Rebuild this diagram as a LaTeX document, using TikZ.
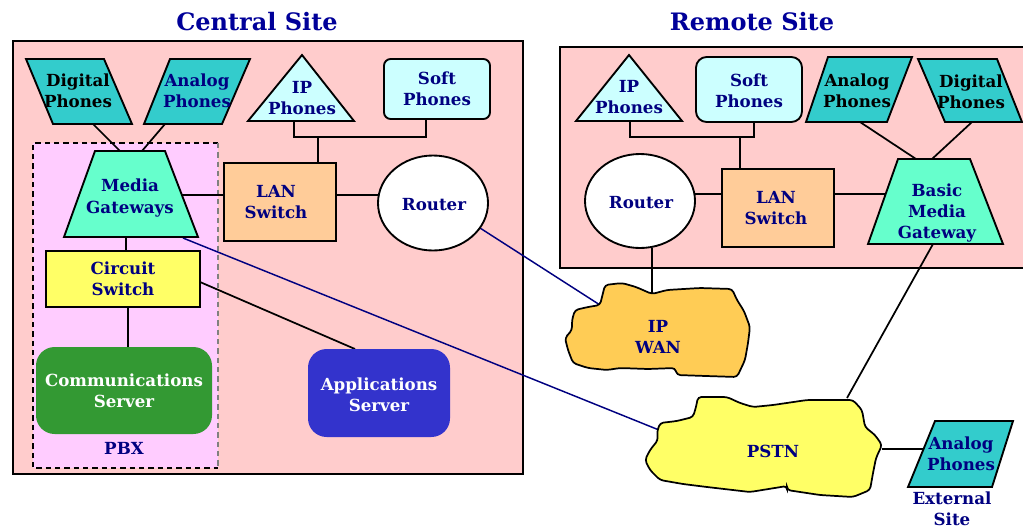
\documentclass[tikz,border=0pt]{standalone}
\usepackage{fontspec}
\setmainfont{DejaVu Serif}
\usetikzlibrary{shapes.geometric}
\definecolor{navytxt}{HTML}{000080}
\definecolor{titlecol}{HTML}{000099}
\definecolor{sitebg}{HTML}{FFCCCC}
\definecolor{pbxbg}{HTML}{FFCCFF}
\definecolor{tealph}{HTML}{33CCCC}
\definecolor{cyanph}{HTML}{CCFFFF}
\definecolor{mintgw}{HTML}{66FFCC}
\definecolor{orlan}{HTML}{FFCC99}
\definecolor{yelsw}{HTML}{FFFF66}
\definecolor{grsrv}{HTML}{339933}
\definecolor{blsrv}{HTML}{3333CC}
\definecolor{wanc}{HTML}{FFCC55}
\definecolor{navyln}{HTML}{000080}
\begin{document}
\begin{tikzpicture}[x=0.75pt,y=-0.75pt,
  shp/.style={draw=black,line width=1.4pt,line join=miter},
  sitebox/.style={draw=black,line width=1.7pt,fill=sitebg},
  conn/.style={draw=black,line width=1.3pt},
  nconn/.style={draw=navyln,line width=1.1pt},
  lbl/.style={font=\bfseries\fontsize{12.5}{15.8}\selectfont,text=navytxt,align=center,inner sep=0pt},
  blbl/.style={lbl,text=black},
  wlbl/.style={lbl,text=white},
  ttl/.style={font=\bfseries\fontsize{18}{21}\selectfont,text=titlecol,inner sep=0pt},
  cloud/.style={draw=black,line width=1.3pt,rounded corners=2.5pt}
]
\useasboundingbox (0,0) rectangle (1023,529);

% titles
\node[ttl] (ctitle) at (257,22) {Central Site};
\node[ttl] (rtitle) at (752,22) {Remote Site};

% site boxes
\path[sitebox] (13,41) rectangle (523,474);
\path[sitebox] (560,47) rectangle (1030,268);
\path[fill=pbxbg] (33,143) rectangle (218,468);
\draw[line width=1.1pt,dash pattern=on 4pt off 3pt] (218,143) -- (33,143) -- (33,468) -- (218,468);
\draw[line width=0.8pt,gray,dash pattern=on 4pt off 3pt] (218,143) -- (218,468);

% ---------- attachment coordinates ----------
\coordinate (cdp-b) at (93,124);   \coordinate (cmg-t1) at (120,151);
\coordinate (cap-b) at (165,124);  \coordinate (cmg-t2) at (142,151);
\coordinate (cip-b) at (294,121);  \coordinate (cip-j) at (294,137);
\coordinate (csp-b) at (426,119);  \coordinate (csp-j) at (426,137);
\coordinate (cbus) at (318,137);   \coordinate (clan-t) at (318,163);
\coordinate (cmg-r) at (182,195);  \coordinate (clan-l) at (224,195);
\coordinate (clan-r) at (336,195); \coordinate (crt-l) at (378,195);
\coordinate (cmg-b) at (126,237);  \coordinate (ccs-t) at (126,251);
\coordinate (ccs-b) at (128,307);  \coordinate (cco-t) at (128,347);
\coordinate (ccs-r) at (200,282);  \coordinate (capp-t) at (355,349);
\coordinate (cmg-br) at (183,238); \coordinate (pstn-l) at (659,430);
\coordinate (crt-br) at (480,228); \coordinate (wan-l) at (600,305);

\coordinate (rip-b) at (630,121);  \coordinate (rip-j) at (630,137);
\coordinate (rsp-b) at (754,122);  \coordinate (rsp-j) at (754,137);
\coordinate (rbus) at (740,137);   \coordinate (rlan-t) at (740,169);
\coordinate (rrt-r) at (695,194);  \coordinate (rlan-l) at (722,194);
\coordinate (rlan-r) at (834,194); \coordinate (rmg-l) at (886,194);
\coordinate (rap-b) at (860,122);  \coordinate (rmg-t1) at (916,159);
\coordinate (rdp-b) at (972,122);  \coordinate (rmg-t2) at (932,159);
\coordinate (rrt-b) at (652,248);  \coordinate (wan-t) at (652,295);
\coordinate (rmg-b) at (933,244);  \coordinate (pstn-t) at (847,398);
\coordinate (pstn-r) at (882,449); \coordinate (eap-l) at (924,449);

% ---------- connectors ----------
\draw[conn] (cdp-b) -- (cmg-t1);
\draw[conn] (cap-b) -- (cmg-t2);
\draw[conn] (cip-b) -- (cip-j) -- (csp-j) -- (csp-b);
\draw[conn] (cbus) -- (clan-t);
\draw[conn] (cmg-r) -- (clan-l);
\draw[conn] (clan-r) -- (crt-l);
\draw[conn] (cmg-b) -- (ccs-t);
\draw[conn] (ccs-b) -- (cco-t);
\draw[conn] (ccs-r) -- (capp-t);
\draw[nconn] (cmg-br) -- (pstn-l);
\draw[nconn] (crt-br) -- (wan-l);

\draw[conn] (rip-b) -- (rip-j) -- (rsp-j) -- (rsp-b);
\draw[conn] (rbus) -- (rlan-t);
\draw[conn] (rrt-r) -- (rlan-l);
\draw[conn] (rlan-r) -- (rmg-l);
\draw[conn] (rap-b) -- (rmg-t1);
\draw[conn] (rdp-b) -- (rmg-t2);
\draw[conn] (rrt-b) -- (wan-t);
\draw[conn] (rmg-b) -- (pstn-t);
\draw[conn] (pstn-r) -- (eap-l);

% ---------- central site shapes ----------
\path[shp,fill=tealph] (26,59) -- (104,59) -- (132,124) -- (53,124) -- cycle;
\node[blbl] (cdp) at (78,91) {Digital\\Phones};
\path[shp,fill=tealph] (170,59) -- (250,59) -- (222,124) -- (144,124) -- cycle;
\node[lbl] (cap) at (197,91) {Analog\\Phones};
\path[shp,fill=cyanph] (302,55) -- (354,121) -- (248,121) -- cycle;
\node[lbl] (cip) at (302,98) {IP\\Phones};
\path[shp,fill=cyanph,rounded corners=5pt] (384,59) rectangle (490,119);
\node[lbl] (csp) at (437,89) {Soft\\Phones};
\path[shp,fill=mintgw] (95,151) -- (165,151) -- (198,237) -- (64,237) -- cycle;
\node[lbl] (cmg) at (130,198) {Media\\Gateways};
\path[shp,fill=orlan] (224,163) rectangle (336,241);
\node[lbl] (clan) at (276,202) {LAN\\Switch};
\path[shp,fill=white] (433,203) ellipse [x radius=55,y radius=47.5];
\node[lbl] (crt) at (434,205) {Router};
\path[shp,fill=yelsw] (46,251) rectangle (200,307);
\node[lbl] (ccs) at (123,279) {Circuit\\Switch};
\path[fill=grsrv,rounded corners=14pt] (36,347) rectangle (212,434);
\node[wlbl] (cco) at (124,391) {Communications\\Server};
\node[lbl] (pbx) at (124,448) {PBX};
\path[fill=blsrv,rounded corners=14pt] (308,349) rectangle (450,437);
\node[wlbl] (capp) at (379,395) {Applications\\Server};

% ---------- remote site shapes ----------
\path[shp,fill=cyanph] (629,55) -- (682,121) -- (576,121) -- cycle;
\node[lbl] (rip) at (629,97) {IP\\Phones};
\path[shp,fill=cyanph,rounded corners=8pt] (696,57) rectangle (802,122);
\node[lbl] (rsp) at (749,91) {Soft\\Phones};
\path[shp,fill=tealph] (828,57) -- (912,57) -- (887,122) -- (806,122) -- cycle;
\node[blbl] (rap) at (857,91) {Analog\\Phones};
\path[shp,fill=tealph] (918,59) -- (997,59) -- (1022,122) -- (945,122) -- cycle;
\node[blbl] (rdp) at (971,92) {Digital\\Phones};
\path[shp,fill=white] (640,201) ellipse [x radius=55,y radius=47];
\node[lbl] (rrt) at (641,203) {Router};
\path[shp,fill=orlan] (722,169) rectangle (834,247);
\node[lbl] (rlan) at (776,208) {LAN\\Switch};
\path[shp,fill=mintgw] (898,159) -- (970,159) -- (1003,244) -- (868,244) -- cycle;
\node[lbl] (rmg) at (937,213) {Basic\\Media\\Gateway};

% ---------- clouds ----------
\path[cloud,fill=wanc] (605,285) -- (622,283) -- (636,287) -- (652,294) -- (667,290)
  -- (700,288) -- (732,289) -- (737,300) -- (744,311) -- (750,327) -- (748,343)
  -- (745,360) -- (737,377) -- (706,376) -- (677,375) -- (675,368) -- (648,369)
  -- (620,368) -- (607,370) -- (588,368) -- (573,363) -- (568,350) -- (565,338)
  -- (572,330) -- (572,320) -- (575,310) -- (588,307) -- (600,305) -- (603,293) -- cycle;
\node[lbl] (wan) at (658,337) {IP\\WAN};

\path[cloud,fill=yelsw] (698,397) -- (727,397) -- (740,403) -- (753,407) -- (773,405)
  -- (807,400) -- (853,400) -- (862,410) -- (865,427) -- (875,435) -- (882,445)
  -- (876,458) -- (873,473) -- (870,490) -- (853,497) -- (820,495) -- (787,490)
  -- (787,486) -- (750,492) -- (707,487) -- (683,484) -- (660,480) -- (650,470)
  -- (645,460) -- (650,450) -- (658,440) -- (657,432) -- (660,423) -- (677,421)
  -- (693,417) -- (696,407) -- cycle;
\node[lbl] (pstn) at (773,451) {PSTN};

% ---------- external site ----------
\path[shp,fill=tealph] (935,421) -- (1013,421) -- (992,487) -- (908,487) -- cycle;
\node[lbl] (eap) at (961,454) {Analog\\Phones};
\node[lbl] (ext) at (952,509) {External\\Site};
\end{tikzpicture}
\end{document}
